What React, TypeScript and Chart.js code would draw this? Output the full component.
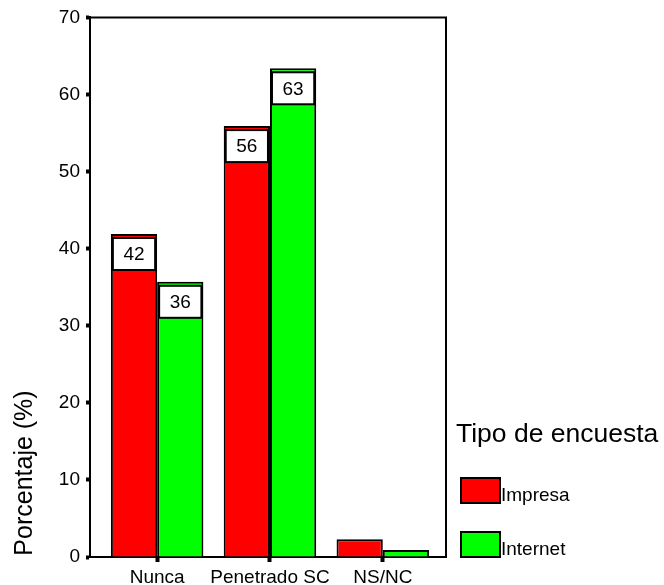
import React, { useEffect, useRef } from "react";
import { Chart, registerables } from "chart.js";

Chart.register(...registerables);

const categories = ["Nunca", "Penetrado SC", "NS/NC"];
const seriesNames = ["Impresa", "Internet"];
const impresa = [41.9, 55.9, 2.3];
const internet = [35.7, 63.4, 0.9];
const yTicks = [0, 10, 20, 30, 40, 50, 60, 70];
const yTitle = "Porcentaje (%)";
const legendTitle = "Tipo de encuesta";
const colors = ["#FF0000", "#00FF00"];

const FONT = "'Liberation Sans', Arial, sans-serif";
const X_MIN = 0.405;
const X_MAX = 3.56;

export default function App() {
  const ref = useRef<HTMLCanvasElement | null>(null);

  useEffect(() => {
    const canvas = ref.current;
    if (!canvas) return;

    const extras = {
      id: "extras",
      afterDatasetsDraw(chart: any) {
        const ctx = chart.ctx;
        const a = chart.chartArea;
        ctx.save();
        chart.data.datasets.forEach((ds: any, di: number) => {
          const meta = chart.getDatasetMeta(di);
          meta.data.forEach((bar: any, i: number) => {
            const v = ds.data[i].y;
            if (v < 5) return;
            const w = bar.width;
            const left = bar.x - w / 2 + 2;
            const top = bar.y + 4;
            const bw = w - 4;
            const bh = 32;
            ctx.fillStyle = "#fff";
            ctx.fillRect(left, top, bw, bh);
            ctx.strokeStyle = "#000";
            ctx.lineWidth = 2;
            ctx.strokeRect(left, top, bw, bh);
            ctx.fillStyle = "#000";
            ctx.font = `19px ${FONT}`;
            ctx.textAlign = "center";
            ctx.textBaseline = "middle";
            ctx.fillText(String(Math.round(v)), bar.x, top + bh / 2 + 1);
          });
        });
        ctx.strokeStyle = "#000";
        ctx.lineWidth = 2;
        ctx.beginPath();
        ctx.moveTo(a.left, a.top);
        ctx.lineTo(a.right, a.top);
        ctx.lineTo(a.right, a.bottom);
        ctx.stroke();
        ctx.save();
        ctx.translate(32, 473);
        ctx.rotate(-Math.PI / 2);
        ctx.fillStyle = "#000";
        ctx.font = `25px ${FONT}`;
        ctx.textAlign = "center";
        ctx.textBaseline = "alphabetic";
        ctx.fillText(yTitle, 0, 0);
        ctx.restore();
        ctx.fillStyle = "#000";
        ctx.font = `26.5px ${FONT}`;
        ctx.textAlign = "left";
        ctx.textBaseline = "alphabetic";
        ctx.fillText(legendTitle, 456, 442);
        const rows = [478, 532];
        seriesNames.forEach((name, i) => {
          const y = rows[i];
          ctx.fillStyle = colors[i];
          ctx.fillRect(461, y, 39, 25);
          ctx.strokeStyle = "#000";
          ctx.lineWidth = 2;
          ctx.strokeRect(461, y, 39, 25);
          ctx.fillStyle = "#000";
          ctx.font = `19px ${FONT}`;
          ctx.fillText(name, 501, y + 23);
        });
        ctx.restore();
      },
    };

    const chart = new Chart(canvas, {
      type: "bar",
      data: {
        datasets: [
          {
            label: seriesNames[0],
            data: impresa.map((v, i) => ({ x: i + 1, y: v })),
            backgroundColor: colors[0],
            borderColor: "#000",
            borderWidth: 2,
          },
          {
            label: seriesNames[1],
            data: internet.map((v, i) => ({ x: i + 1, y: v })),
            backgroundColor: colors[1],
            borderColor: "#000",
            borderWidth: 2,
          },
        ],
      },
      options: {
        responsive: false,
        animation: false,
        maintainAspectRatio: false,
        devicePixelRatio: 1,
        datasets: { bar: { categoryPercentage: 0.82, barPercentage: 1 } },
        layout: { padding: { left: 0, top: 16, right: 218, bottom: 0 } },
        plugins: { legend: { display: false }, tooltip: { enabled: false } },
        scales: {
          x: {
            type: "linear",
            offset: false,
            bounds: "data",
            min: X_MIN,
            max: X_MAX,
            afterDataLimits: (s: any) => {
              s.min = X_MIN;
              s.max = X_MAX;
            },
            afterFit: (s: any) => {
              s.height = 28;
            },
            afterBuildTicks: (s: any) => {
              s.ticks = categories.map((_, i) => ({ value: i + 1 }));
              s.min = X_MIN;
              s.max = X_MAX;
            },
            ticks: {
              color: "#000",
              font: { family: FONT, size: 19 },
              padding: 4,
              maxRotation: 0,
              autoSkip: false,
              callback: (v: any) => categories[Math.round(Number(v)) - 1] ?? "",
            },
            grid: {
              offset: false,
              drawOnChartArea: false,
              tickLength: 5,
              tickWidth: 4,
              color: "#000",
            },
            border: { display: true, color: "#000", width: 2 },
          },
          y: {
            min: 0,
            max: 70,
            afterFit: (s: any) => {
              s.width = 90;
            },
            afterBuildTicks: (s: any) => {
              s.ticks = yTicks.map((v) => ({ value: v }));
            },
            ticks: {
              color: "#000",
              font: { family: FONT, size: 19 },
              padding: 6,
            },
            grid: {
              drawOnChartArea: false,
              tickLength: 4,
              tickWidth: 4,
              color: "#000",
            },
            border: { display: true, color: "#000", width: 2 },
          },
        },
      },
      plugins: [extras],
    } as any);

    return () => chart.destroy();
  }, []);

  return (
    <div style={{ position: "absolute", left: 0, top: 0, width: 664, height: 585, background: "#fff" }}>
      <canvas ref={ref} width={664} height={585} style={{ width: 664, height: 585, display: "block" }} />
    </div>
  );
}
